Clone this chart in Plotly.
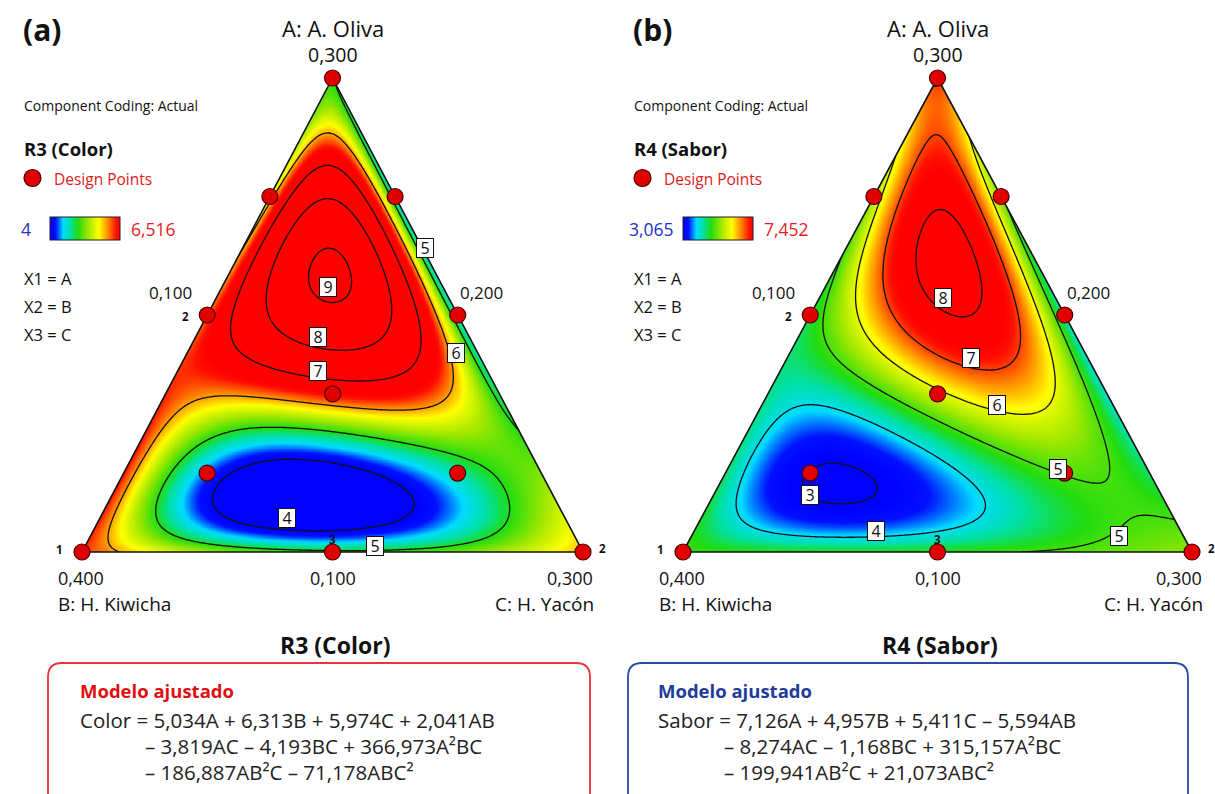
import numpy as np
import plotly.graph_objects as go

# ---------------- data ----------------
A_MIN, B_MIN, C_MIN = 0.1, 0.2, 0.1
TOTAL = 0.6
SPAN = TOTAL - (A_MIN + B_MIN + C_MIN)

# design points (actual amounts)
design_A = [0.300, 0.100, 0.100, 0.200, 0.200, 0.100, 0.1667, 0.250, 0.250, 0.1333, 0.1333]
design_B = [0.200, 0.400, 0.200, 0.300, 0.200, 0.300, 0.2667, 0.250, 0.200, 0.3333, 0.2333]
design_C = [0.100, 0.100, 0.300, 0.100, 0.200, 0.200, 0.1667, 0.100, 0.150, 0.1333, 0.2333]

# fitted model coefficients: A, B, C, AB, AC, BC, A2BC, AB2C, ABC2
color_coef = [5.034, 6.313, 5.974, 2.041, -3.819, -4.193, 366.973, -186.887, -71.178]
sabor_coef = [7.126, 4.957, 5.411, -5.594, -8.274, -1.168, 315.157, -199.941, 21.073]

color_range = [4.0, 6.516]
sabor_range = [3.065, 7.452]
color_levels = [4, 9, 1]
sabor_levels = [3, 8, 1]
color_range_text = ["4", "6,516"]
sabor_range_text = ["3,065", "7,452"]

vertex_ticks = ["0,300", "0,400", "0,300"]      # top A, left B, right C
edge_ticks = ["0,100", "0,200", "0,100"]        # left edge, right edge, bottom edge
replicate_text = ["1", "2", "2", "3"]           # left vertex, right vertex, left edge, bottom mid

# contour label texts and their spots (x, y in the triangle frame)
color_labels = [("5", 0.685, 0.641), ("9", 0.491, 0.559), ("8", 0.471, 0.454), ("7", 0.471, 0.382),
                ("6", 0.746, 0.420), ("4", 0.409, 0.072), ("5", 0.585, 0.013)]
sabor_labels = [("8", 0.511, 0.536), ("7", 0.566, 0.409), ("6", 0.617, 0.310), ("5", 0.737, 0.175),
                ("3", 0.250, 0.120), ("4", 0.379, 0.044), ("5", 0.857, 0.034)]

eq_color = ["Color = 5,034A + 6,313B + 5,974C + 2,041AB",
            "– 3,819AC – 4,193BC + 366,973A²BC",
            "– 186,887AB²C – 71,178ABC²"]
eq_sabor = ["Sabor = 7,126A + 4,957B + 5,411C – 5,594AB",
            "– 8,274AC – 1,168BC + 315,157A²BC",
            "– 199,941AB²C + 21,073ABC²"]

# ---------------- helpers ----------------
W, H = 1215, 794
FONT = "Open Sans"


def model(k, a, b, c):
    return (k[0]*a + k[1]*b + k[2]*c + k[3]*a*b + k[4]*a*c + k[5]*b*c
            + k[6]*a*a*b*c + k[7]*a*b*b*c + k[8]*a*b*c*c)


def to_xy(a, c):
    # ternary frame: x = C' + A'/2, y = A'
    return c + a / 2.0, a


def pseudo(A, B, C):
    return ((np.asarray(A) - A_MIN) / SPAN, (np.asarray(B) - B_MIN) / SPAN, (np.asarray(C) - C_MIN) / SPAN)


PAD = 0.02
colorscale = [[0.0, "#0000ff"], [0.08, "#0010ff"], [0.19, "#00dcff"], [0.29, "#00e0a8"],
              [0.4, "#22dc10"], [0.55, "#a0e800"], [0.7, "#ffff00"], [0.82, "#ff9000"],
              [0.95, "#ff1000"], [1.0, "#ff0000"]]

gx = np.linspace(0, 1, 301)
gy = np.linspace(0, 1, 301)
GX, GY = np.meshgrid(gx, gy)
Ap = GY
Cp = GX - GY / 2.0
Bp = 1 - Ap - Cp

fig = go.Figure()

panels = [
    dict(coef=color_coef, rng=color_range, lev=color_levels, xa="x", ya="y",
         px=(82, 583), labels=color_labels, rtext=color_range_text, key="a",
         title="R3 (Color)", left=22, eq=eq_color, box=(48, 590), boxcol="#e8343a",
         modcol="#e01010", cb_x=50, gap=17, eqx=78, indent=65),
    dict(coef=sabor_coef, rng=sabor_range, lev=sabor_levels, xa="x2", ya="y2",
         px=(683, 1192), labels=sabor_labels, rtext=sabor_range_text, key="b",
         title="R4 (Sabor)", left=632, eq=eq_sabor, box=(628, 1188), boxcol="#2a4aa8",
         modcol="#1f3c99", cb_x=683, gap=7, eqx=656, indent=66),
]

TOP_PX, BOT_PX = 78, 552
annotations = []
shapes = []

for p in panels:
    Z = model(p["coef"], Ap, Bp, Cp)
    fig.add_trace(go.Heatmap(
        x=gx, y=gy, z=Z, xaxis=p["xa"], yaxis=p["ya"], zmin=p["rng"][0], zmax=p["rng"][1],
        colorscale=colorscale, zsmooth="best", hoverinfo="skip",
        colorbar=dict(orientation="h", x=p["cb_x"] / W, xanchor="left", y=1 - 229 / H,
                      yanchor="middle", len=70, lenmode="pixels", thickness=23,
                      thicknessmode="pixels", outlinecolor="#222", outlinewidth=1,
                      showticklabels=False, ticks="", xpad=0, ypad=0)))
    fig.add_trace(go.Contour(
        x=gx, y=gy, z=Z, xaxis=p["xa"], yaxis=p["ya"], showscale=False, hoverinfo="skip",
        contours=dict(start=p["lev"][0], end=p["lev"][1], size=p["lev"][2], coloring="none"),
        line=dict(color="#111", width=1.3)))
    # white mask outside triangle
    m = 0.2
    fig.add_trace(go.Scatter(
        x=[-m, 1 + m, 1 + m, 0.5, 0.5, 1, 0, 0.5, 0.5, -m, -m],
        y=[-m, -m, 1 + m, 1 + m, 1, 0, 0, 1, 1 + m, 1 + m, -m],
        xaxis=p["xa"], yaxis=p["ya"], fill="toself", fillcolor="white", mode="none",
        hoverinfo="skip", showlegend=False))
    # triangle border
    fig.add_trace(go.Scatter(x=[0, 1, 0.5, 0], y=[0, 0, 1, 0], xaxis=p["xa"], yaxis=p["ya"],
                             mode="lines", line=dict(color="#111", width=1.6), hoverinfo="skip",
                             showlegend=False, cliponaxis=False))
    # design points
    pa, pb, pc = pseudo(design_A, design_B, design_C)
    dx, dy = to_xy(pa, pc)
    fig.add_trace(go.Scatter(x=dx, y=dy, xaxis=p["xa"], yaxis=p["ya"], mode="markers",
                             marker=dict(size=16, color="#e00000", line=dict(color="#4a0000", width=1.2)),
                             cliponaxis=False, showlegend=False, name="Design Points"))

    # contour labels
    for txt, lx, ly in p["labels"]:
        annotations.append(dict(x=lx, y=ly, xref=p["xa"], yref=p["ya"], text=txt, showarrow=False,
                                font=dict(family=FONT, size=16, color="#111"), bgcolor="white",
                                bordercolor="#111", borderwidth=1, borderpad=1, width=14, height=16))

    xr, yr = p["xa"], p["ya"]

    def A(x, y, text, size, xs=0, ys=0, xanchor="center", bold=False, color="#111"):
        t = "<b>%s</b>" % text if bold else text
        annotations.append(dict(x=x, y=y, xref=xr, yref=yr, text=t, showarrow=False,
                                xshift=xs, yshift=ys, xanchor=xanchor, yanchor="middle",
                                font=dict(family=FONT, size=size, color=color)))

    A(0.5, 1, "A: A. Oliva", 22, ys=50)
    A(0.5, 1, vertex_ticks[0], 19.5, ys=23)
    A(0, 0, vertex_ticks[1], 18, xs=-26, ys=-26, xanchor="left")
    A(0, 0, "B: H. Kiwicha", 19, xs=-26, ys=-52, xanchor="left")
    A(1, 0, vertex_ticks[2], 18, xs=12, ys=-26, xanchor="right")
    A(1, 0, "C: H. Yacón", 19, xs=13, ys=-52, xanchor="right")
    A(0.25, 0.5, edge_ticks[0], 17, xs=-13, ys=22, xanchor="right")
    A(0.75, 0.5, edge_ticks[1], 17, xs=0, ys=22, xanchor="left")
    A(0.5, 0, edge_ticks[2], 18, ys=-26)
    A(0, 0, replicate_text[0], 11.5, xs=-23, ys=3, bold=True)
    A(1, 0, replicate_text[1], 11.5, xs=19, ys=4, bold=True)
    A(0.25, 0.5, replicate_text[2], 11.5, xs=-22, ys=-2, bold=True)
    A(0.5, 0, replicate_text[3], 11.5, ys=13, bold=True)

    # paper-positioned side texts
    def P(x, y, text, size, xanchor="left", bold=False, color="#111"):
        t = "<b>%s</b>" % text if bold else text
        annotations.append(dict(x=x / W, y=1 - y / H, xref="paper", yref="paper", text=t,
                                showarrow=False, xanchor=xanchor, yanchor="middle",
                                font=dict(family=FONT, size=size, color=color)))

    L = p["left"]
    P(L - 1, 29, "(%s)" % p["key"], 30, bold=True)
    P(L, 105, "Component Coding: Actual", 14)
    P(L, 148, p["title"], 18.5, bold=True)
    shapes.append(dict(type="circle", xref="paper", yref="paper",
                       x0=(L + 2) / W, x1=(L + 19) / W, y0=1 - 186.5 / H, y1=1 - 169.5 / H,
                       fillcolor="#e00000", line=dict(color="#4a0000", width=1.2)))
    P(L + 30, 179, "Design Points", 15.5, color="#e02020")
    P(p["cb_x"] - p["gap"], 229, p["rtext"][0], 17.5, xanchor="right", color="#2232c8")
    P(p["cb_x"] + 79, 229, p["rtext"][1], 17.5, color="#e81c24")
    P(L, 278, "X1 = A", 16.5)
    P(L, 306, "X2 = B", 16.5)
    P(L, 334, "X3 = C", 16.5)

    # bottom title and equation box
    cx = (p["px"][0] + p["px"][1]) / 2.0 + 3
    P(cx, 645, p["title"], 23, xanchor="center", bold=True)
    x0, x1 = p["box"]
    y0, y1, r = 663, 808, 14
    path = ("M {a},{b} L {c},{b} Q {x1},{b} {x1},{d} L {x1},{e} L {x0},{e} L {x0},{d} Q {x0},{b} {a},{b} Z"
            .format(a=(x0 + r) / W, c=(x1 - r) / W, b=1 - y0 / H, x1=x1 / W, x0=x0 / W,
                    d=1 - (y0 + r) / H, e=1 - y1 / H))
    shapes.append(dict(type="path", xref="paper", yref="paper", path=path,
                       line=dict(color=p["boxcol"], width=1.8), fillcolor="rgba(0,0,0,0)"))
    ex = p["eqx"]
    P(ex, 690, "Modelo ajustado", 18.5, bold=True, color=p["modcol"])
    P(ex, 720, p["eq"][0], 20.5, color="#222")
    P(ex + p["indent"], 746, p["eq"][1], 20.5, color="#222")
    P(ex + p["indent"], 772, p["eq"][2], 20.5, color="#222")


def dom_x(px0, px1):
    w = px1 - px0
    return [(px0 - PAD * w) / W, (px1 + PAD * w) / W]


hgt = BOT_PX - TOP_PX
ydom = [1 - (BOT_PX + PAD * hgt) / H, 1 - (TOP_PX - PAD * hgt) / H]
ax = dict(visible=False, range=[-PAD, 1 + PAD], showgrid=False, zeroline=False, fixedrange=True)
fig.update_layout(
    width=W, height=H, autosize=False, margin=dict(l=0, r=0, t=0, b=0),
    paper_bgcolor="white", plot_bgcolor="white", showlegend=False,
    font=dict(family=FONT, color="#111"),
    xaxis=dict(ax, domain=dom_x(82, 583)), yaxis=dict(ax, domain=ydom),
    xaxis2=dict(ax, domain=dom_x(683, 1192)), yaxis2=dict(ax, domain=ydom),
    annotations=annotations, shapes=shapes,
)

fig.write_html("out.html", config={"displayModeBar": False},
               post_script="document.body.style.margin='0';document.body.style.overflow='hidden';")
